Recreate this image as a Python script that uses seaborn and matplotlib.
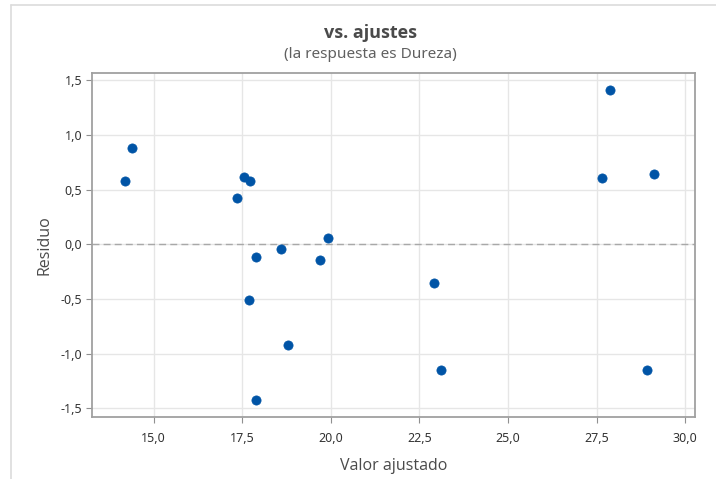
import matplotlib
matplotlib.use("Agg")
import matplotlib.pyplot as plt
import matplotlib.ticker as mticker
from matplotlib.lines import Line2D
import seaborn as sns
import pandas as pd

# Fitted values and residuals (response: Dureza)
fitted = [14.20, 14.40, 17.35, 17.55, 17.72, 17.88, 17.68, 17.88, 18.59,
          18.80, 19.70, 19.92, 22.91, 23.12, 27.87, 27.66, 29.13, 28.93]
residuals = [0.58, 0.88, 0.42, 0.62, 0.58, -0.12, -0.51, -1.42, -0.04,
             -0.92, -0.14, 0.06, -0.35, -1.15, 1.41, 0.61, 0.64, -1.15]
x_ticks = [15.0, 17.5, 20.0, 22.5, 25.0, 27.5, 30.0]
y_ticks = [-1.5, -1.0, -0.5, 0.0, 0.5, 1.0, 1.5]

df = pd.DataFrame({"Valor ajustado": fitted, "Residuo": residuals})

sns.set_theme(style="whitegrid")
plt.rcParams["font.family"] = ["Noto Sans", "DejaVu Sans"]

fig = plt.figure(figsize=(7.16, 4.79), dpi=100)
ax = fig.add_axes([92 / 716, 1 - 417 / 479, (695 - 92) / 716, (417 - 73) / 479])

sns.scatterplot(data=df, x="Valor ajustado", y="Residuo", ax=ax,
                color="#0054A6", s=44, edgecolor="#0054A6", linewidth=0.5,
                zorder=3)
ax.axhline(0, color="#A8A8A8", linestyle=(0, (5, 3)), linewidth=1.0, zorder=2)

ax.set_xlim(13.26, 30.28)
ax.set_ylim(-1.58, 1.567)
ax.set_xticks(x_ticks)
ax.set_yticks(y_ticks)

comma = mticker.FuncFormatter(lambda v, _: f"{v:.1f}".replace(".", ","))
ax.xaxis.set_major_formatter(comma)
ax.yaxis.set_major_formatter(comma)

ax.grid(True, color="#E6E6E6", linewidth=1.0)
for side in ["left", "right", "top", "bottom"]:
    ax.spines[side].set_visible(True)
    ax.spines[side].set_color("#A0A0A0")
    ax.spines[side].set_linewidth(1.3)

ax.tick_params(axis="both", which="major", length=4, width=0.8,
               color="#909090", labelsize=9, labelcolor="#333333",
               bottom=True, left=True, pad=3)
ax.tick_params(axis="x", pad=7)

ax.set_xlabel("Valor ajustado", fontsize=11.5, color="#4A4A4A", labelpad=9,
              family=["Open Sans", "DejaVu Sans"])
ax.set_ylabel("Residuo", fontsize=11.5, color="#4A4A4A", labelpad=6,
              family=["Open Sans", "DejaVu Sans"])

fig.text(370 / 716, 1 - 33 / 479, "vs. ajustes", ha="center", va="center",
         fontsize=13, fontweight="bold", color="#4A4A4A",
         family=["Open Sans", "DejaVu Sans"])
fig.text(370 / 716, 1 - 54 / 479, "(la respuesta es Dureza)", ha="center",
         va="center", fontsize=11, color="#606060")

# light panel frame along the top and left edges
fig.add_artist(Line2D([11 / 716, 11 / 716], [0, 1 - 5 / 479],
                      transform=fig.transFigure, color="#DCDCDC", linewidth=1.2))
fig.add_artist(Line2D([11 / 716, 1], [1 - 5 / 479, 1 - 5 / 479],
                      transform=fig.transFigure, color="#DCDCDC", linewidth=1.2))

fig.savefig("out.png", dpi=100)
